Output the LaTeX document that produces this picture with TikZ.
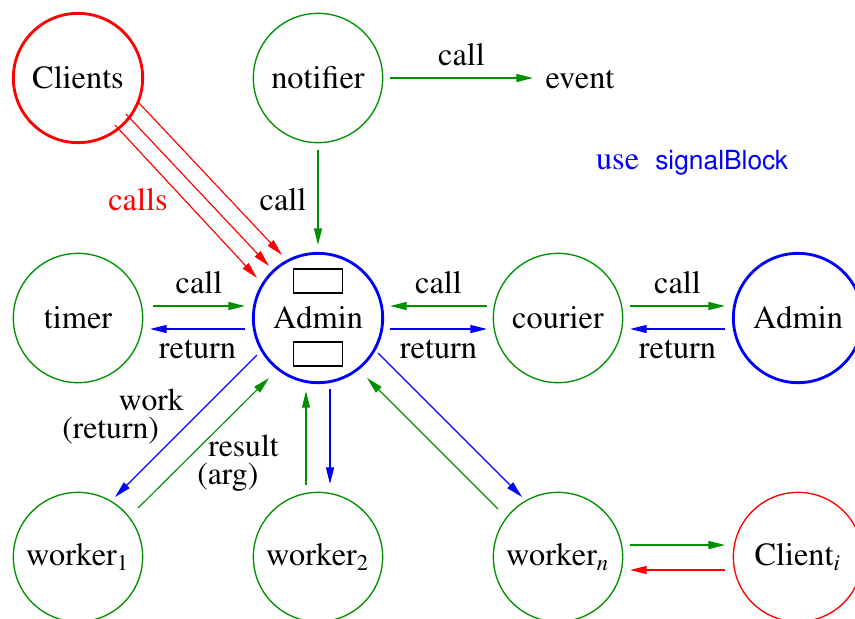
\documentclass[tikz,border=0pt]{standalone}
\usepackage[T1]{fontenc}
\usepackage{times}
\usetikzlibrary{calc, arrows.meta}
\definecolor{grn}{RGB}{0,144,0}
\tikzset{
  proc/.style={circle, draw=grn, line width=0.4pt, minimum size=38.8pt, inner sep=0pt},
  chief/.style={proc, draw=blue, line width=0.85pt},
  cli/.style={proc, draw=red},
  flow/.style={-{Triangle[length=5pt,width=2.4pt]}, line width=0.35pt},
  slot/.style={draw, line width=0.35pt, minimum width=14.7pt, minimum height=7.2pt, inner sep=0pt},
  tag/.style={inner sep=0pt, align=left, font=\rmfamily\fontsize{9.5}{8.4}\selectfont},
}

\begin{document}
\begin{tikzpicture}[x=0.3pt, y=-0.3pt, font=\rmfamily\fontsize{9.7}{11}\selectfont]
  \useasboundingbox (0,0) rectangle (855,618);
  % circles (px grid, y downwards)
  \node[cli, line width=0.85pt] (clients) at (78,78) {Clients};
  \node[proc] (notifier) at (318,78) {notifier};
  \node (event) at (580,80) {event};
  \node[proc] (timer) at (78,318) {timer};
  \node[chief] (admin) at (318,318) {Admin};
  \node[proc] (courier) at (558,318) {courier};
  \node[chief] (adminR) at (798,318) {Admin};
  \node[proc] (worker1) at (78,557) {worker\textsubscript{1}};
  \node[proc] (worker2) at (318,557) {worker\textsubscript{2}};
  \node[proc] (workerN) at (558,557) {worker\textsubscript{\itshape n}};
  \node[cli] (client) at (798,557) {Client\textsubscript{\itshape i}};
  \node[slot] (slotA) at ($(admin)+(0,-37)$) {};
  \node[slot] (slotB) at ($(admin)+(0,36)$) {};
  \node[blue] (note) at (692,163) {use~~{\sffamily\fontsize{7.9}{10}\selectfont signalBlock}};

  % clients
  \draw[flow, red] ($(clients)+(37,47)$) -- ($(admin)+(-61,-40)$);
  \draw[flow, red] ($(clients)+(48,36)$) -- ($(admin)+(-49,-52)$);
  \draw[flow, red] ($(clients)+(61,25)$) -- ($(admin)+(-36,-63)$);
  \node[red] (callsLbl) at (138,200) {calls};

  % notifier
  \draw[flow, grn] ($(notifier)+(72,0)$) -- node[above, black] {call} ($(notifier)+(215,0)$);
  \draw[flow, grn] ($(notifier)+(0,72)$) -- ($(admin)+(0,-73)$);
  \node (callN) at (283,200) {call};

  % middle row
  \draw[flow, grn] ($(timer)+(75,-12)$) -- node[above, black] {call} ($(admin)+(-73,-12)$);
  \draw[flow, blue] ($(admin)+(-73,11)$) -- node[below, black] {return} ($(timer)+(72,11)$);
  \draw[flow, grn] ($(courier)+(-71,-12)$) -- node[above, black] {call} ($(admin)+(72,-12)$);
  \draw[flow, blue] ($(admin)+(72,11)$) -- node[below, black] {return} ($(courier)+(-71,11)$);
  \draw[flow, grn] ($(courier)+(72,-12)$) -- node[above, black] {call} ($(adminR)+(-73,-12)$);
  \draw[flow, blue] ($(adminR)+(-73,11)$) -- node[below, black] {return} ($(courier)+(72,11)$);

  % workers
  \draw[flow, blue] ($(admin)+(-61,37)$) -- ($(worker1)+(37,-60)$);
  \draw[flow, grn] ($(worker1)+(60,-49)$) -- ($(admin)+(-49,60)$);
  \node[tag] (workLbl) at (123,417) {\hspace*{17pt}work\\(return)};
  \node[tag] (resLbl) at (238,463) {\hspace*{3.3pt}result\\(arg)};
  \draw[flow, grn] ($(worker2)+(-12,-72)$) -- ($(admin)+(-12,73)$);
  \draw[flow, blue] ($(admin)+(12,71)$) -- ($(worker2)+(12,-73)$);
  \draw[flow, grn] ($(workerN)+(-60,-48)$) -- ($(admin)+(49,60)$);
  \draw[flow, blue] ($(admin)+(60,35)$) -- ($(workerN)+(-36,-60)$);

  % client_i
  \draw[flow, grn] ($(workerN)+(72,-12)$) -- ($(client)+(-73,-12)$);
  \draw[flow, red] ($(client)+(-73,13)$) -- ($(workerN)+(72,13)$);
\end{tikzpicture}
\end{document}
